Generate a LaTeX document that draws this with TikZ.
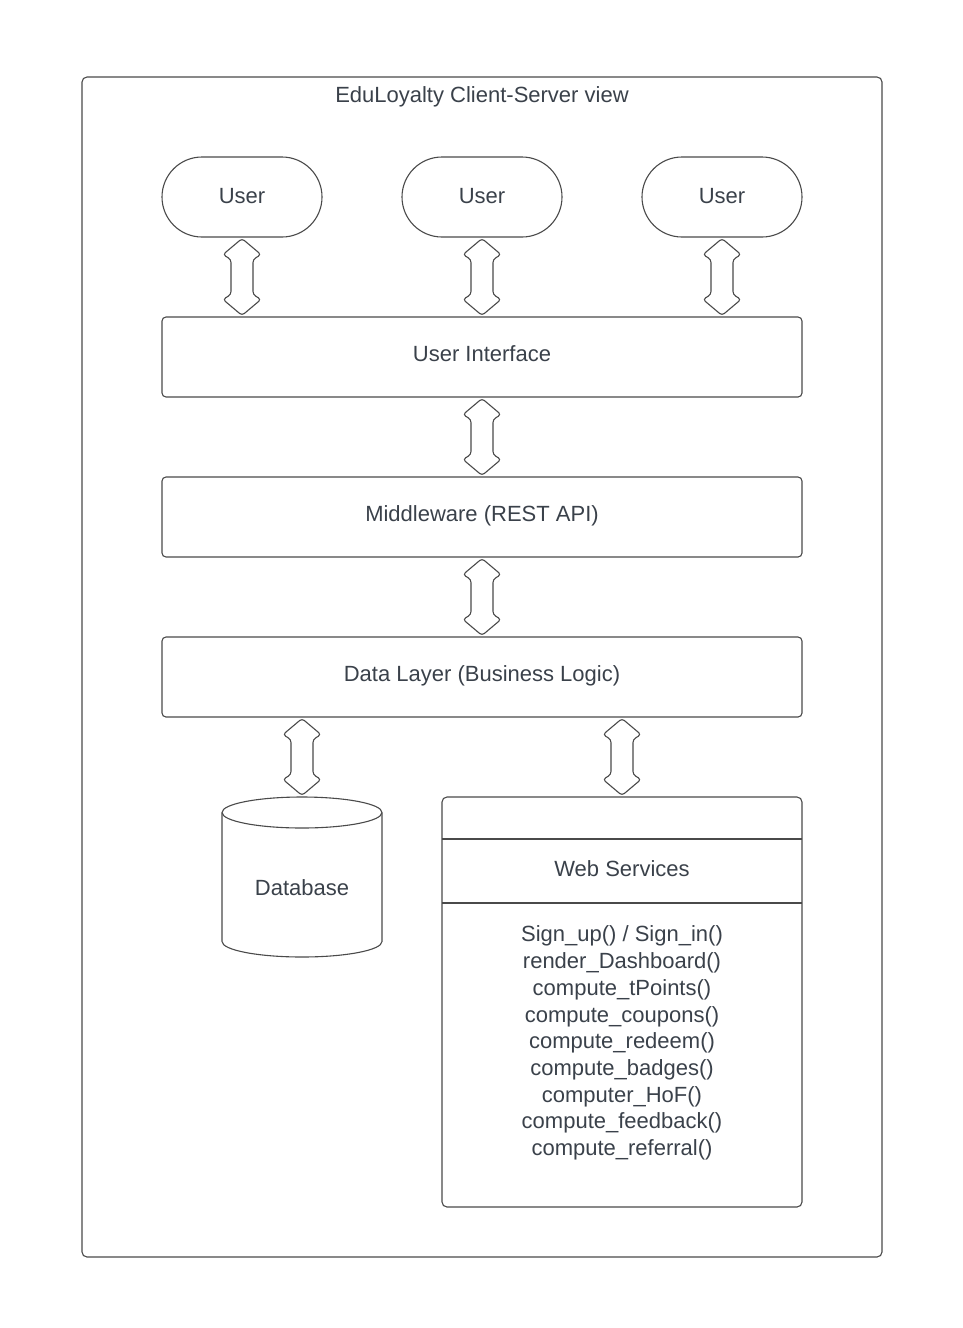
\documentclass[tikz,border=0pt]{standalone}
\usepackage{fontspec}
\setmainfont{Liberation Sans}
\usetikzlibrary{calc}
\definecolor{txt}{HTML}{3A414A}
\definecolor{ln}{HTML}{4A4A4A}
\newcommand\dblarr[3]{\draw[arr] let \p1=(#1.south), \p2=(#2.north), \p3=(#3.center) in
  (\x3,\y1-1pt) -- (\x3-19pt,\y1-17pt) -- (\x3-11pt,\y1-22pt) -- (\x3-11pt,\y2+22pt) --
  (\x3-19pt,\y2+17pt) -- (\x3,\y2+1pt) -- (\x3+19pt,\y2+17pt) -- (\x3+11pt,\y2+22pt) --
  (\x3+11pt,\y1-22pt) -- (\x3+19pt,\y1-17pt) -- cycle;}
\begin{document}
\begin{tikzpicture}[x=1pt,y=1pt,line width=1.1pt,
  lbl/.style={text=txt,font=\fontsize{22}{26.7}\selectfont,inner sep=0},
  box/.style={lbl,draw=ln,rounded corners=4pt,minimum width=640,minimum height=80,text height=16pt,text depth=8pt},
  user/.style={lbl,draw=ln,rounded corners=40pt,minimum width=160,minimum height=80,text height=16pt,text depth=4pt},
  arr/.style={draw=ln,fill=white,rounded corners=3pt}]
\useasboundingbox (0,0) rectangle (963,-1328);
\node (frame) [draw=ln,rounded corners=5pt,minimum width=800,minimum height=1180,inner sep=0] at (482,-667) {};
\node (title) [lbl] at (482,-97) {EduLoyalty Client-Server view};
\node (u1) [user] at (242,-197) {User};
\node (u2) [user] at (482,-197) {User};
\node (u3) [user] at (722,-197) {User};
\node (ui) [box] at (482,-357) {User Interface};
\node (mw) [box] at (482,-517) {Middleware (REST API)};
\node (dl) [box] at (482,-677) {Data Layer (Business Logic)};
% database cylinder
\node (db) [minimum width=160,minimum height=160,inner sep=0] at (302,-877) {};
\draw[draw=ln] (222,-812.5) -- (222,-941.5) arc[start angle=180,end angle=360,x radius=80,y radius=15.5]
  -- (382,-812.5);
\draw[draw=ln] (302,-812.5) ellipse[x radius=80,y radius=15.5];
\node (dbl) [lbl] at (302,-888) {Database};
% web services
\node (ws) [draw=ln,rounded corners=5pt,minimum width=360,minimum height=410,inner sep=0] at (622,-1002) {};
\coordinate (d1l) at (442,-839); \coordinate (d1r) at (802,-839);
\coordinate (d2l) at (442,-903); \coordinate (d2r) at (802,-903);
\draw[draw=ln] (d1l) -- (d1r);
\draw[draw=ln] (d2l) -- (d2r);
\node (wst) [lbl] at (622,-869) {Web Services};
\node (wsm) [lbl,align=center] at (622,-1043) {Sign\_up() / Sign\_in()\\render\_Dashboard()\\compute\_tPoints()\\compute\_coupons()\\compute\_redeem()\\compute\_badges()\\computer\_HoF()\\compute\_feedback()\\compute\_referral()};
% arrows
\dblarr{u1}{ui}{u1}
\dblarr{u2}{ui}{u2}
\dblarr{u3}{ui}{u3}
\dblarr{ui}{mw}{mw}
\dblarr{mw}{dl}{dl}
\dblarr{dl}{db}{db}
\dblarr{dl}{ws}{ws}
\end{tikzpicture}
\end{document}
